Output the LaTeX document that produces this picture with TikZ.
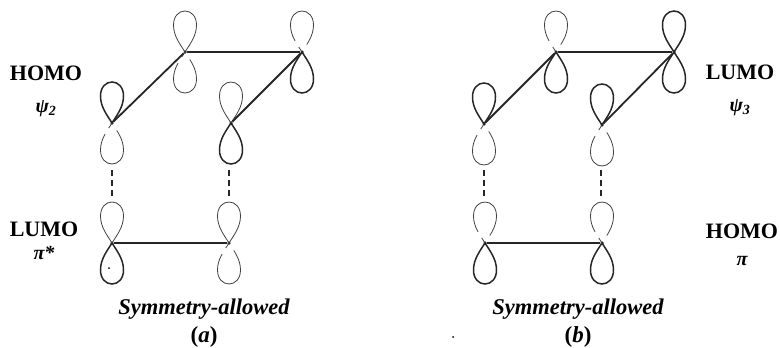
\documentclass[tikz,border=0pt]{standalone}
\usepackage{fontspec}
\setmainfont{Liberation Serif}
\usetikzlibrary{positioning}
\tikzset{
  atom/.style={circle, fill=black!85, inner sep=0pt, minimum size=3.5pt},
  speck/.style={circle, fill=black, inner sep=0pt, minimum size=2pt},
  bond/.style={draw=black!85, line width=1.8pt},
  weak/.style={draw=black!85, line width=1.4pt, dash pattern=on 6pt off 4pt},
  heavy/.style={draw=black!85, line width=1.5pt},
  light/.style={draw=black!75, line width=0.8pt},
  open/.style={light, dash pattern=on 6pt off 7pt on 78pt off 14pt},
  flip/.style={yscale=-1},
  orbital/.style={font=\fontsize{22}{24}\selectfont\bfseries},
  state/.style={font=\fontsize{20}{22}\selectfont\bfseries\itshape},
  title/.style={font=\fontsize{22.5}{24}\selectfont\bfseries\itshape},
  tag/.style={font=\fontsize{23}{24}\selectfont\bfseries},
  lobe/.pic={
    \path[draw, pic actions] (0,0) .. controls (-5,-8) and (-11.5,-16) .. (-11.5,-27)
      .. controls (-11.5,-36) and (-6,-41) .. (0,-41)
      .. controls (6,-41) and (11.5,-36) .. (11.5,-27)
      .. controls (11.5,-16) and (5,-8) .. (0,0);
  }
}
\begin{document}
\begin{tikzpicture}[x=1pt, y=-1pt]
  \useasboundingbox (0,0) rectangle (780,348);
  % Panel a
  \node[atom] (a1) at (112,123) {};
  \node[atom] (a2) at (185,52) {};
  \node[atom] (a3) at (302,52) {};
  \node[atom] (a4) at (231,123) {};
  \node[atom] (a5) at (112,243) {};
  \node[atom] (a6) at (229,243) {};
  \coordinate (a1d) at (112,170);
  \coordinate (a5u) at (112,198);
  \coordinate (a4d) at (229,170);
  \coordinate (a6u) at (229,198);

  \pic[heavy] at (a1) {lobe};
  \pic[open, flip] at (a1) {lobe};
  \pic[light] at (a2) {lobe};
  \pic[open, flip] at (a2) {lobe};
  \pic[open] at (a3) {lobe};
  \pic[heavy, flip] at (a3) {lobe};
  \pic[light] at (a4) {lobe};
  \pic[heavy, flip] at (a4) {lobe};
  \pic[light] at (a5) {lobe};
  \pic[heavy, flip] at (a5) {lobe};
  \pic[light] at (a6) {lobe};
  \pic[open, flip] at (a6) {lobe};

  \draw[bond] (a1) -- (a2);
  \draw[bond] (a2) -- (a3);
  \draw[bond] (a3) -- (a4);
  \draw[bond] (a5) -- (a6);
  \draw[weak] (a1d) -- (a5u);
  \draw[weak] (a4d) -- (a6u);

  \node[orbital] (homoa) at (46,73) {HOMO};
  \node[state, below=13pt of homoa] (psia) {ψ\textsubscript{2}};
  \node[orbital] (lumoa) at (44,229) {LUMO};
  \node[state, below=3pt of lumoa] (pia) {π*};
  \node[title] (capa) at (204,309) {Symmetry-allowed};
  \node[tag] (laba) at (204,337) {(\textit{a})};

  % Panel b
  \node[atom] (b1) at (484,124) {};
  \node[atom] (b2) at (556,52) {};
  \node[atom] (b3) at (674,52) {};
  \node[atom] (b4) at (602,125) {};
  \node[atom] (b5) at (485,243) {};
  \node[atom] (b6) at (602,243) {};
  \coordinate (b1d) at (484,170);
  \coordinate (b5u) at (484,198);
  \coordinate (b4d) at (601,170);
  \coordinate (b6u) at (601,198);

  \pic[heavy] at (b1) {lobe};
  \pic[open, flip] at (b1) {lobe};
  \pic[open] at (b2) {lobe};
  \pic[heavy, flip] at (b2) {lobe};
  \pic[heavy] at (b3) {lobe};
  \pic[heavy, flip] at (b3) {lobe};
  \pic[heavy] at (b4) {lobe};
  \pic[open, flip] at (b4) {lobe};
  \pic[open] at (b5) {lobe};
  \pic[heavy, flip] at (b5) {lobe};
  \pic[open] at (b6) {lobe};
  \pic[heavy, flip] at (b6) {lobe};

  \draw[bond] (b1) -- (b2);
  \draw[bond] (b2) -- (b3);
  \draw[bond] (b3) -- (b4);
  \draw[bond] (b5) -- (b6);
  \draw[weak] (b1d) -- (b5u);
  \draw[weak] (b4d) -- (b6u);

  \node[orbital] (lumob) at (740,72) {LUMO};
  \node[state, below=13pt of lumob] (psib) {ψ\textsubscript{3}};
  \node[orbital] (homob) at (742,231) {HOMO};
  \node[state, below=11pt of homob] (pib) {π};
  \node[title] (capb) at (578,309) {Symmetry-allowed};
  \node[tag] (labb) at (578,337) {(\textit{b})};
  \node[speck] (specka) at (109,268) {};
  \node[speck] (speckb) at (453,337) {};
\end{tikzpicture}
\end{document}
